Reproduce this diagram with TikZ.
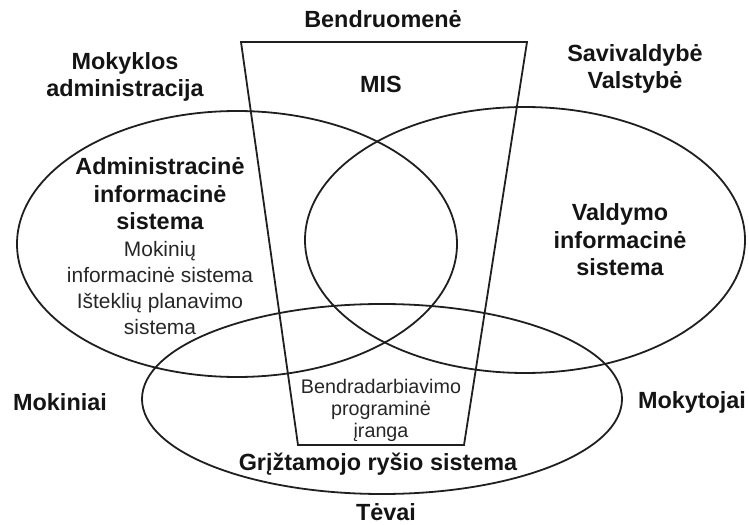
\documentclass[tikz,border=0pt]{standalone}
\usepackage{fontspec}
\setmainfont{Liberation Sans}
\begin{document}
\begin{tikzpicture}[x=1bp,y=-1bp,
  shape line/.style={draw=black!88, line width=1.8bp},
  boldlabel/.style={inner sep=0pt, align=center, text=black!92, font=\fontsize{23.5}{27.5}\selectfont\bfseries},
  reglabel/.style={inner sep=0pt, align=center, text=black!85, font=\fontsize{21}{26.3}\selectfont},
  smalllabel/.style={inner sep=0pt, align=center, text=black!85, font=\fontsize{19.8}{22}\selectfont}]
\useasboundingbox (0,0) rectangle (749,525);
% ellipses
\draw[shape line] (237,244) ellipse [x radius=220, y radius=133];
\draw[shape line] (525,240) ellipse [x radius=220, y radius=133];
\draw[shape line] (382,399) ellipse [x radius=240, y radius=95];
% trapezoid
\coordinate (tl) at (241,42);
\coordinate (tr) at (527,42);
\coordinate (br) at (464,445);
\coordinate (bl) at (298,445);
\draw[shape line, line join=miter] (tl) -- (tr) -- (br) -- (bl) -- cycle;
% labels
\node[boldlabel] (bendruomene) at (383,19) {Bendruomenė};
\node[boldlabel] (mis) at (381,84) {MIS};
\node[boldlabel] (mokyklos) at (125,77) {Mokyklos\\administracija};
\node[boldlabel] (saviv) at (635,69) {Savivaldybė\\Valstybė};
\node[boldlabel] (ais) at (160,194) {Administracinė\\informacinė\\sistema};
\node[reglabel] (aissub) at (160,288) {Mokinių\\informacinė sistema\\Išteklių planavimo\\sistema};
\node[boldlabel] (vis) at (620,240) {Valdymo\\informacinė\\sistema};
\node[boldlabel] (mokiniai) at (60,402) {Mokiniai};
\node[boldlabel] (mokytojai) at (692,402) {Mokytojai};
\node[smalllabel] (bendr) at (381,410) {Bendradarbiavimo\\programinė\\įranga};
\node[boldlabel] (grizt) at (378,464) {Grįžtamojo ryšio sistema};
\node[boldlabel] (tevai) at (386,512) {Tėvai};
\end{tikzpicture}
\end{document}
